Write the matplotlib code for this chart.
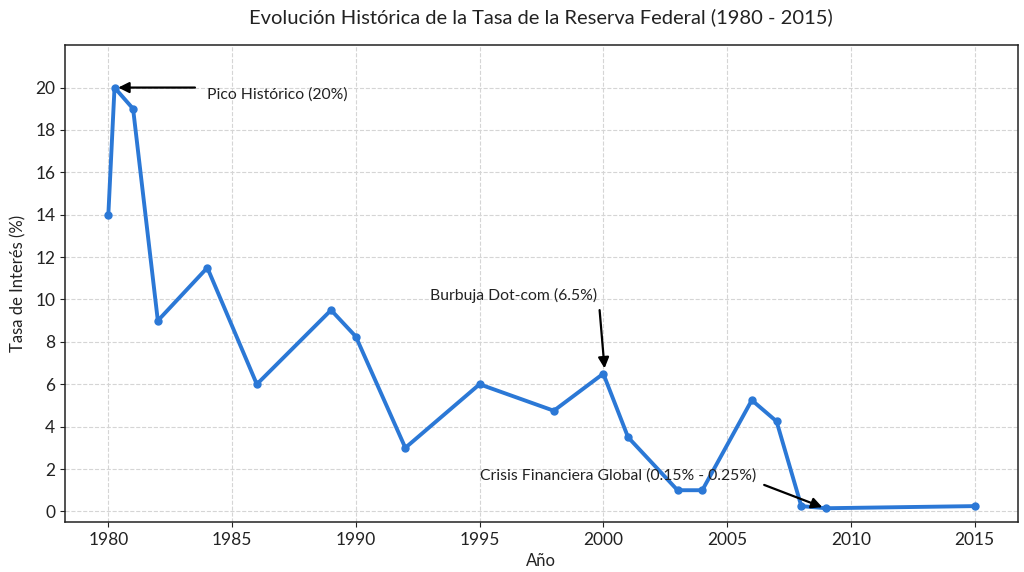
import matplotlib
matplotlib.use("Agg")
import matplotlib.pyplot as plt

# Data
years = [1980, 1980.25, 1981, 1982, 1984, 1986, 1989, 1990, 1992, 1995,
         1998, 2000, 2001, 2003, 2004, 2006, 2007, 2008, 2009, 2015]
rates = [14, 20, 19, 9, 11.5, 6, 9.5, 8.25, 3, 6,
         4.75, 6.5, 3.5, 1, 1, 5.25, 4.25, 0.25, 0.15, 0.25]

x_ticks = [1980, 1985, 1990, 1995, 2000, 2005, 2010, 2015]
y_ticks = [0, 2, 4, 6, 8, 10, 12, 14, 16, 18, 20]

title = "Evolución Histórica de la Tasa de la Reserva Federal (1980 - 2015)"
notes = [
    # text, text pos, arrow tail, arrow head
    ("Pico Histórico (20%)", (1984.0, 19.67), (1983.5, 20.0), (1980.4, 20.0)),
    ("Burbuja Dot-com (6.5%)", (1993.0, 10.2), (1999.85, 9.5), (2000.05, 6.75)),
    ("Crisis Financiera Global (0.15% - 0.25%)", (1995.0, 1.7), (2006.5, 1.25), (2008.85, 0.2)),
]

plt.rcParams["font.family"] = ["Lato", "DejaVu Sans"]

fig = plt.figure(figsize=(10.24, 5.72), dpi=100)
ax = fig.add_axes([0.0635, 0.0874, 0.9305, 0.8336])

ax.plot(years, rates, color="#2b78d6", linewidth=2.8, marker="o", markersize=5, zorder=3)

for text, tpos, tail, head in notes:
    ax.text(tpos[0], tpos[1], text, fontsize=11.3, color="#222222", ha="left", va="center")
    ax.annotate("", xy=head, xytext=tail,
                arrowprops=dict(arrowstyle="-|>", color="black", lw=1.6, mutation_scale=16,
                                shrinkA=0, shrinkB=0), zorder=4)

ax.set_xlim(1978.25, 2016.75)
ax.set_ylim(-0.5, 22)
ax.set_xticks(x_ticks)
ax.set_yticks(y_ticks)
ax.tick_params(labelsize=12.5, colors="#222222")
for sp in ax.spines.values():
    sp.set_linewidth(1.1)
    sp.set_color("#222222")
ax.grid(True, linestyle="--", color="#d5d5d5", linewidth=0.8)
ax.set_xlabel("Año", fontsize=12, color="#222222")
ax.set_ylabel("Tasa de Interés (%)", fontsize=12, color="#222222", labelpad=6)
fig.suptitle(title, fontsize=14.5, y=0.985, x=0.528, color="#222222")

fig.savefig("out.png", dpi=100)
